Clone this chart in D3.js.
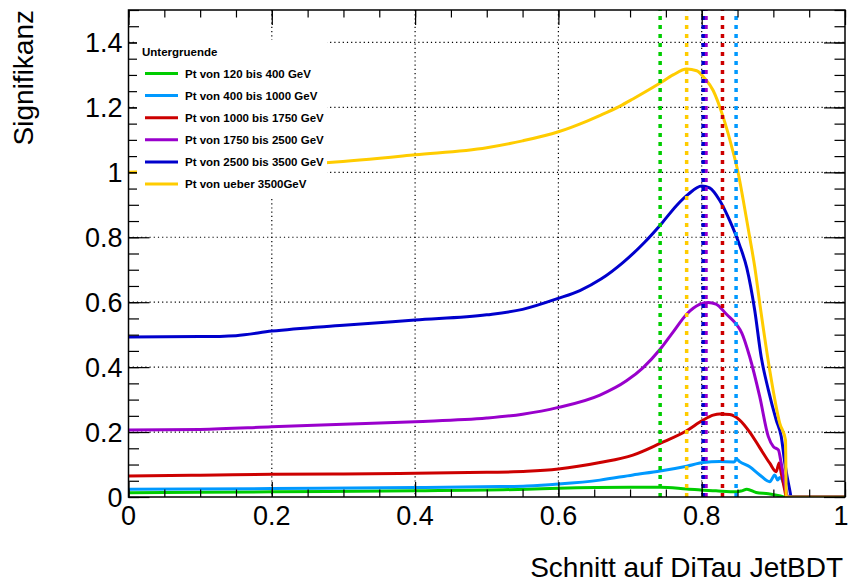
<!DOCTYPE html>
<html>
<head>
<meta charset="utf-8">
<script src="https://cdn.jsdelivr.net/npm/d3@7/dist/d3.min.js"></script>
<style>
  body { margin: 0; background: #fff; }
  svg { display: block; font-family: "Liberation Sans", Arial, Helvetica, sans-serif; }
</style>
</head>
<body>
<svg id="chart" width="851" height="584"></svg>
<script>
// Significance vs. cut on the DiTau JetBDT score, one curve per background pT slice
const seriesNames = [
  "Pt von 120 bis 400 GeV",
  "Pt von 400 bis 1000 GeV",
  "Pt von 1000 bis 1750 GeV",
  "Pt von 1750 bis 2500 GeV",
  "Pt von 2500 bis 3500 GeV",
  "Pt von ueber 3500GeV"
];
const seriesColors = ["#00cc00", "#0099ff", "#cc0000", "#9900cc", "#0000cc", "#ffcc00"];

const pt120X = [0, 0.2, 0.4, 0.556, 0.6, 0.7, 0.742, 0.779, 0.82, 0.849, 0.856, 0.863, 0.876, 0.893, 0.91, 0.916, 1];
const pt120Y = [0.013, 0.016, 0.019, 0.024, 0.027, 0.030, 0.030, 0.025, 0.019, 0.016, 0.019, 0.024, 0.014, 0.010, 0.003, 0, 0];

const pt400X = [0, 0.2, 0.4, 0.518, 0.556, 0.6, 0.658, 0.704, 0.742, 0.779, 0.802, 0.825, 0.845, 0.849, 0.853, 0.867, 0.881, 0.895, 0.902, 0.906, 0.909, 0.916, 0.92, 1];
const pt400Y = [0.024, 0.026, 0.029, 0.032, 0.034, 0.040, 0.052, 0.068, 0.080, 0.095, 0.106, 0.109, 0.108, 0.116, 0.109, 0.093, 0.068, 0.047, 0.068, 0.052, 0.060, 0.032, 0, 0];

const pt1000X = [0, 0.1, 0.2, 0.3, 0.4, 0.5, 0.556, 0.6, 0.658, 0.704, 0.742, 0.779, 0.802, 0.816, 0.825, 0.839, 0.853, 0.867, 0.881, 0.895, 0.904, 0.908, 0.911, 0.916, 0.918, 1];
const pt1000Y = [0.065, 0.067, 0.070, 0.071, 0.073, 0.076, 0.079, 0.086, 0.106, 0.129, 0.165, 0.204, 0.237, 0.252, 0.256, 0.254, 0.237, 0.200, 0.152, 0.104, 0.078, 0.105, 0.073, 0.020, 0, 0];

const pt1750X = [0, 0.1, 0.2, 0.3, 0.4, 0.5, 0.55, 0.6, 0.658, 0.695, 0.718, 0.742, 0.76, 0.779, 0.797, 0.809, 0.82, 0.835, 0.849, 0.856, 0.867, 0.881, 0.893, 0.9, 0.907, 0.911, 0.916, 0.92, 1];
const pt1750Y = [0.206, 0.208, 0.216, 0.224, 0.232, 0.243, 0.255, 0.276, 0.314, 0.358, 0.398, 0.455, 0.508, 0.563, 0.593, 0.599, 0.594, 0.562, 0.530, 0.505, 0.432, 0.309, 0.186, 0.155, 0.145, 0.104, 0.043, 0, 0];

const pt2500X = [0, 0.1, 0.15, 0.2, 0.3, 0.4, 0.5, 0.55, 0.6, 0.63, 0.66, 0.69, 0.72, 0.745, 0.765, 0.781, 0.8, 0.811, 0.825, 0.839, 0.853, 0.863, 0.874, 0.883, 0.893, 0.904, 0.911, 0.916, 0.923, 0.925, 1];
const pt2500Y = [0.493, 0.494, 0.497, 0.511, 0.529, 0.545, 0.561, 0.578, 0.612, 0.636, 0.672, 0.722, 0.784, 0.845, 0.898, 0.932, 0.958, 0.952, 0.914, 0.852, 0.775, 0.705, 0.575, 0.432, 0.330, 0.237, 0.186, 0.105, 0.020, 0, 0];

const pt3500X = [0, 0.1, 0.2, 0.28, 0.4, 0.5, 0.55, 0.6, 0.64, 0.66, 0.686, 0.704, 0.742, 0.76, 0.779, 0.793, 0.804, 0.816, 0.83, 0.842, 0.851, 0.858, 0.867, 0.874, 0.881, 0.895, 0.909, 0.917, 0.918, 1];
const pt3500Y = [1.000, 1.008, 1.018, 1.030, 1.054, 1.076, 1.097, 1.125, 1.158, 1.177, 1.204, 1.226, 1.275, 1.300, 1.318, 1.313, 1.290, 1.252, 1.170, 1.078, 0.997, 0.914, 0.800, 0.709, 0.597, 0.390, 0.227, 0.175, 0, 0];

// optimal cut for each slice (dashed vertical markers)
const bestCut = [0.742, 0.848, 0.829, 0.806, 0.802, 0.779];

const xTickValues = [0, 0.2, 0.4, 0.6, 0.8, 1];
const xTickLabels = ["0", "0.2", "0.4", "0.6", "0.8", "1"];
const yTickValues = [0, 0.2, 0.4, 0.6, 0.8, 1, 1.2, 1.4];
const yTickLabels = ["0", "0.2", "0.4", "0.6", "0.8", "1", "1.2", "1.4"];
const xMinorValues = d3.range(0, 21).map(i => i * 0.05);
const yMinorValues = d3.range(0, 31).map(i => i * 0.05);

const seriesX = [pt120X, pt400X, pt1000X, pt1750X, pt2500X, pt3500X];
const seriesY = [pt120Y, pt400Y, pt1000Y, pt1750Y, pt2500Y, pt3500Y];

const svg = d3.select("#chart");
const frame = { left: 128.5, right: 845, top: 10, bottom: 497 };

const x = d3.scaleLinear().domain([0, 1]).range([frame.left, frame.right]);
const y = d3.scaleLinear().domain([0, 1.5]).range([frame.bottom, frame.top]);

svg.append("defs").append("clipPath").attr("id", "plotClip")
  .append("rect")
  .attr("x", frame.left).attr("y", frame.top)
  .attr("width", frame.right - frame.left).attr("height", frame.bottom - frame.top);

// dotted grid at major ticks
const grid = svg.append("g").attr("stroke", "#000").attr("stroke-width", 1.2).attr("stroke-dasharray", "1.2,3");
grid.selectAll("line.gx").data(xTickValues.filter(v => v > 0 && v < 1)).join("line")
  .attr("x1", d => x(d)).attr("x2", d => x(d))
  .attr("y1", frame.top).attr("y2", frame.bottom);
grid.selectAll("line.gy").data(yTickValues.filter(v => v > 0)).join("line")
  .attr("x1", frame.left).attr("x2", frame.right)
  .attr("y1", d => y(d)).attr("y2", d => y(d));

// curves
const line = d3.line().x(d => x(d[0])).y(d => y(d[1])).curve(d3.curveMonotoneX);
const curves = svg.append("g").attr("clip-path", "url(#plotClip)");
seriesX.forEach((xs, i) => {
  curves.append("path")
    .datum(xs.map((v, j) => [v, seriesY[i][j]]))
    .attr("fill", "none")
    .attr("stroke", seriesColors[i])
    .attr("stroke-width", 3)
    .attr("stroke-linejoin", "round")
    .attr("d", line);
});

// best-cut markers
const cutOrder = [0, 1, 2, 3, 4, 5];
svg.append("g").selectAll("line").data(cutOrder).join("line")
  .attr("x1", i => x(bestCut[i])).attr("x2", i => x(bestCut[i]))
  .attr("y1", frame.bottom).attr("y2", frame.top)
  .attr("stroke", i => seriesColors[i])
  .attr("stroke-width", 3.5)
  .attr("stroke-dasharray", "4,5");

// axes: ticks point into the frame
const majorY = 21, minorY = 10.5, majorX = 15, minorX = 7.5;
function ticksOnly(axis) {
  return g => { g.call(axis); g.select(".domain").remove(); g.selectAll("text").remove(); g.selectAll("line").attr("stroke-width", 1.2); };
}
svg.append("g").attr("transform", `translate(${frame.left},0)`)
  .call(ticksOnly(d3.axisLeft(y).tickValues(yMinorValues).tickSize(-minorY)));
svg.append("g").attr("transform", `translate(${frame.left},0)`)
  .call(ticksOnly(d3.axisLeft(y).tickValues(yTickValues).tickSize(-majorY)));
svg.append("g").attr("transform", `translate(${frame.right},0)`)
  .call(ticksOnly(d3.axisRight(y).tickValues(yMinorValues).tickSize(-minorY)));
svg.append("g").attr("transform", `translate(${frame.right},0)`)
  .call(ticksOnly(d3.axisRight(y).tickValues(yTickValues).tickSize(-majorY)));
svg.append("g").attr("transform", `translate(0,${frame.bottom})`)
  .call(ticksOnly(d3.axisBottom(x).tickValues(xMinorValues).tickSize(-minorX)));
svg.append("g").attr("transform", `translate(0,${frame.bottom})`)
  .call(ticksOnly(d3.axisBottom(x).tickValues(xTickValues).tickSize(-majorX)));
svg.append("g").attr("transform", `translate(0,${frame.top})`)
  .call(ticksOnly(d3.axisTop(x).tickValues(xMinorValues).tickSize(-minorX)));
svg.append("g").attr("transform", `translate(0,${frame.top})`)
  .call(ticksOnly(d3.axisTop(x).tickValues(xTickValues).tickSize(-majorX)));

// frame
svg.append("rect")
  .attr("x", frame.left).attr("y", frame.top)
  .attr("width", frame.right - frame.left).attr("height", frame.bottom - frame.top)
  .attr("fill", "none").attr("stroke", "#000").attr("stroke-width", 1.5);

// tick labels
svg.append("g").selectAll("text").data(yTickValues).join("text")
  .attr("x", frame.left - 6).attr("y", d => y(d) + 9.5)
  .attr("text-anchor", "end").attr("font-size", 27)
  .text((d, i) => yTickLabels[i]);
svg.append("g").selectAll("text").data(xTickValues).join("text")
  .attr("x", d => x(d) - (d === 1 ? 4 : 0)).attr("y", frame.bottom + 28)
  .attr("text-anchor", "middle").attr("font-size", 27)
  .text((d, i) => xTickLabels[i]);

// axis titles
svg.append("text")
  .attr("x", 843).attr("y", 577)
  .attr("text-anchor", "end").attr("font-size", 28)
  .text("Schnitt auf DiTau JetBDT");
svg.append("text")
  .attr("transform", "translate(33,10) rotate(-90)")
  .attr("text-anchor", "end").attr("font-size", 28)
  .text("Signifikanz");

// legend
const legend = svg.append("g");
legend.append("rect")
  .attr("x", 137).attr("y", 40).attr("width", 190).attr("height", 157)
  .attr("fill", "#fff");
legend.append("text")
  .attr("x", 142).attr("y", 56)
  .attr("font-size", 11.5).attr("font-weight", "bold")
  .text("Untergruende");
const rows = legend.selectAll("g.row").data(seriesNames).join("g")
  .attr("transform", (d, i) => `translate(0,${73.5 + i * 22.1})`);
rows.append("line")
  .attr("x1", 145).attr("x2", 178).attr("y1", 0).attr("y2", 0)
  .attr("stroke", (d, i) => seriesColors[i]).attr("stroke-width", 3);
rows.append("text")
  .attr("x", 185).attr("y", 4)
  .attr("font-size", 11.5).attr("font-weight", "bold")
  .text(d => d);
</script>
</body>
</html>
